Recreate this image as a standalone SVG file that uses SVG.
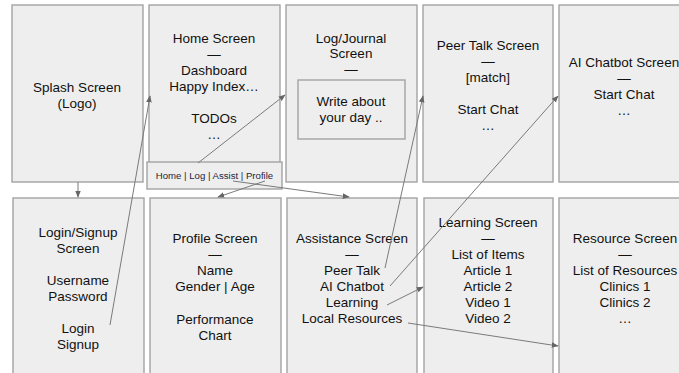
<svg xmlns="http://www.w3.org/2000/svg" width="679" height="373" viewBox="0 0 679 373">
  <style>
    .scr { fill: #eeeeee; stroke: #a3a3a3; stroke-width: 1.4; }
    .t { font-family: "Liberation Sans", Arial, sans-serif; font-size: 13.5px; fill: #111; text-anchor: middle; }
    .nav { font-family: "Liberation Sans", Arial, sans-serif; font-size: 9.6px; fill: #1e1e3c; text-anchor: middle; }
    .edge { fill: none; stroke: #7a7a7a; stroke-width: 1; marker-end: url(#arr); }
  </style>
  <defs>
    <marker id="arr" viewBox="0 0 10 10" refX="9" refY="5" markerWidth="7" markerHeight="7" markerUnits="userSpaceOnUse" orient="auto">
      <path d="M0,1 L10,5 L0,9 z" fill="#666"/>
    </marker>
  </defs>
  <rect width="679" height="373" fill="#ffffff"/>

  <!-- top row -->
  <g id="splash">
    <rect class="scr" x="12" y="5" width="131" height="177"/>
    <text class="t" x="77" y="92">Splash Screen</text>
    <text class="t" x="77" y="108">(Logo)</text>
  </g>
  <g id="home">
    <rect class="scr" x="149" y="5" width="131" height="177"/>
    <text class="t" x="214" y="43">Home Screen</text>
    <text class="t" x="214" y="59">—</text>
    <text class="t" x="214" y="75">Dashboard</text>
    <text class="t" x="214" y="91">Happy Index…</text>
    <text class="t" x="214" y="123">TODOs</text>
    <text class="t" x="214" y="139">…</text>
  </g>
  <g id="navbar">
    <rect class="scr" x="147" y="162" width="135" height="27"/>
    <text class="nav" x="214.5" y="179">Home | Log | Assist | Profile</text>
  </g>
  <g id="log">
    <rect class="scr" x="286" y="5" width="131" height="177"/>
    <text class="t" x="351" y="43">Log/Journal</text>
    <text class="t" x="351" y="58">Screen</text>
    <text class="t" x="351" y="74">—</text>
    <rect class="scr" x="298" y="80" width="107" height="59"/>
    <text class="t" x="351" y="106">Write about</text>
    <text class="t" x="351" y="122">your day ..</text>
  </g>
  <g id="peertalk">
    <rect class="scr" x="423" y="5" width="130" height="177"/>
    <text class="t" x="488" y="50">Peer Talk Screen</text>
    <text class="t" x="488" y="66">—</text>
    <text class="t" x="488" y="82">[match]</text>
    <text class="t" x="488" y="114">Start Chat</text>
    <text class="t" x="488" y="130">…</text>
  </g>
  <g id="aichatbot">
    <rect class="scr" x="559" y="5" width="130" height="177"/>
    <text class="t" x="624" y="67">AI Chatbot Screen</text>
    <text class="t" x="624" y="83">—</text>
    <text class="t" x="624" y="99">Start Chat</text>
    <text class="t" x="624" y="115">…</text>
  </g>

  <!-- bottom row -->
  <g id="login">
    <rect class="scr" x="13" y="198" width="131" height="190"/>
    <text class="t" x="78" y="237">Login/Signup</text>
    <text class="t" x="78" y="253">Screen</text>
    <text class="t" x="78" y="285">Username</text>
    <text class="t" x="78" y="301">Password</text>
    <text class="t" x="78" y="333">Login</text>
    <text class="t" x="78" y="349">Signup</text>
  </g>
  <g id="profile">
    <rect class="scr" x="150" y="198" width="131" height="190"/>
    <text class="t" x="215" y="243">Profile Screen</text>
    <text class="t" x="215" y="259">—</text>
    <text class="t" x="215" y="275">Name</text>
    <text class="t" x="215" y="291">Gender | Age</text>
    <text class="t" x="215" y="324">Performance</text>
    <text class="t" x="215" y="340">Chart</text>
  </g>
  <g id="assistance">
    <rect class="scr" x="287" y="198" width="130" height="190"/>
    <text class="t" x="352" y="243">Assistance Screen</text>
    <text class="t" x="352" y="259">—</text>
    <text class="t" x="352" y="275">Peer Talk</text>
    <text class="t" x="352" y="291">AI Chatbot</text>
    <text class="t" x="352" y="307">Learning</text>
    <text class="t" x="352" y="323">Local Resources</text>
  </g>
  <g id="learning">
    <rect class="scr" x="424" y="198" width="129" height="190"/>
    <text class="t" x="488" y="227">Learning Screen</text>
    <text class="t" x="488" y="243">—</text>
    <text class="t" x="488" y="259">List of Items</text>
    <text class="t" x="488" y="275">Article 1</text>
    <text class="t" x="488" y="291">Article 2</text>
    <text class="t" x="488" y="307">Video 1</text>
    <text class="t" x="488" y="323">Video 2</text>
  </g>
  <g id="resource">
    <rect class="scr" x="559" y="198" width="130" height="190"/>
    <text class="t" x="625" y="243">Resource Screen</text>
    <text class="t" x="625" y="259">—</text>
    <text class="t" x="625" y="275">List of Resources</text>
    <text class="t" x="625" y="291">Clinics 1</text>
    <text class="t" x="625" y="307">Clinics 2</text>
    <text class="t" x="625" y="323">…</text>
  </g>

  <!-- navigation links -->
  <g id="connectors">
    <line class="edge" x1="78" y1="182" x2="78" y2="197"/>
    <line class="edge" x1="110" y1="325" x2="150" y2="96"/>
    <line class="edge" x1="198" y1="163" x2="285" y2="95"/>
    <line class="edge" x1="265" y1="181" x2="218" y2="197"/>
    <line class="edge" x1="233" y1="181" x2="349" y2="197"/>
    <line class="edge" x1="385" y1="268" x2="423" y2="96"/>
    <line class="edge" x1="390" y1="286" x2="558" y2="96"/>
    <line class="edge" x1="387" y1="305" x2="423" y2="287"/>
    <line class="edge" x1="408" y1="323" x2="558" y2="346"/>
  </g>
</svg>
